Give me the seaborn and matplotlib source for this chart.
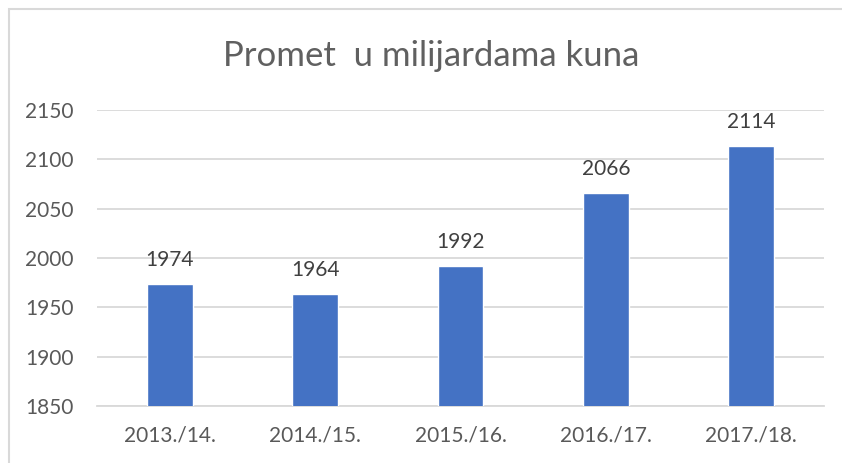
import matplotlib
matplotlib.use('Agg')
import matplotlib.pyplot as plt
import seaborn as sns
import pandas as pd
from matplotlib.patches import Rectangle

# data
seasons = ['2013./14.', '2014./15.', '2015./16.', '2016./17.', '2017./18.']
promet = [1974, 1964, 1992, 2066, 2114]
y_ticks = [1850, 1900, 1950, 2000, 2050, 2100, 2150]

df = pd.DataFrame({'season': seasons, 'promet': promet})

sns.set_style('white')
plt.rcParams['font.family'] = ['Lato', 'DejaVu Sans']

fig = plt.figure(figsize=(8.42, 4.63), dpi=100)
ax = fig.add_axes([97 / 842, 1 - 406 / 463, (824 - 97) / 842, (406 - 110) / 463])

sns.barplot(data=df, x='season', y='promet', color='#4472C4', width=0.316,
            saturation=1, ax=ax, zorder=3)

ax.set_ylim(1850, 2150)
ax.set_yticks(y_ticks)
ax.set_xlim(-0.5, len(seasons) - 0.5)
ax.yaxis.grid(True, color='#d9d9d9', linewidth=1.3, zorder=0)
ax.set_axisbelow(True)
for s in ax.spines.values():
    s.set_visible(False)
ax.spines['bottom'].set_visible(True)
ax.spines['bottom'].set_color('#d9d9d9')
ax.spines['bottom'].set_linewidth(1.3)
ax.tick_params(axis='both', length=0, labelsize=15, colors='#595959')
ax.tick_params(axis='y', pad=17)
ax.tick_params(axis='x', pad=14)
ax.set_xlabel('')
ax.set_ylabel('')

# value labels
for i, v in enumerate(promet):
    ax.annotate(str(v), (i, v), xytext=(0, 10), textcoords='offset points',
                ha='center', va='bottom', fontsize=15, color='#404040')

fig.text(431 / 842, 1 - 56 / 463, 'Promet  u milijardama kuna', ha='center', va='center',
         fontsize=25, color='#606060')

# chart border
fig.patches.append(Rectangle((9 / 842, -0.05), 1.0, 1 - 9 / 463 + 0.05,
                             transform=fig.transFigure, fill=False,
                             edgecolor='#d9d9d9', linewidth=1.5))

fig.savefig('out.png', dpi=100)
